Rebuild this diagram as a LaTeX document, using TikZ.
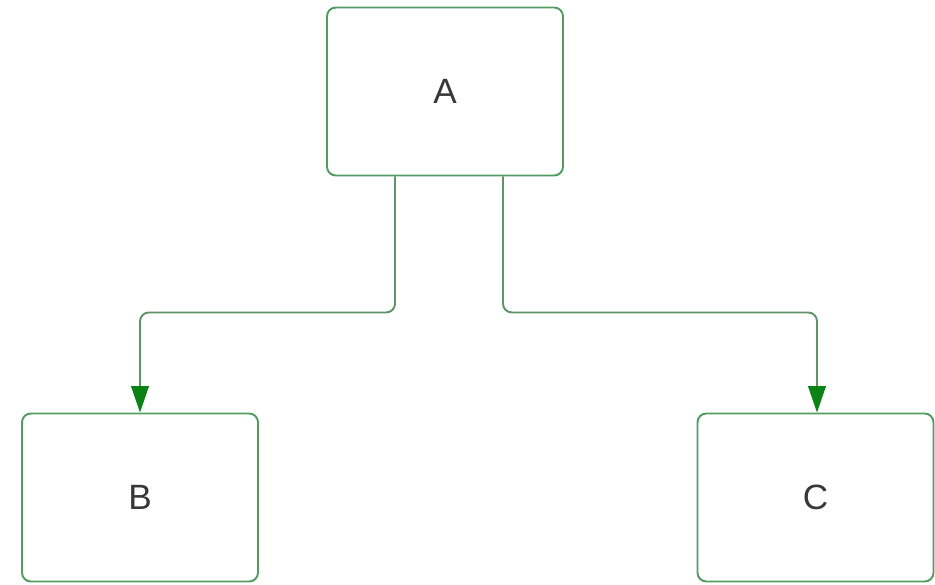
\documentclass[tikz,border=0pt]{standalone}
\usepackage{fontspec}
\setmainfont{Liberation Sans}
\usetikzlibrary{arrows.meta}
\definecolor{boxgreen}{RGB}{82,156,96}
\definecolor{linegreen}{RGB}{96,146,104}
\definecolor{tipgreen}{RGB}{10,130,20}
\definecolor{textgrey}{RGB}{55,55,55}
\begin{document}
\begin{tikzpicture}[
        x=1cm, y=1cm,
        base/.style={draw=boxgreen, rounded corners=5pt, line width=1.1pt, align=center, minimum width=4.72cm, minimum height=3.36cm, font=\fontsize{20}{24}\selectfont, text=textgrey},
        flow/.style={draw=linegreen, line width=1.1pt, rounded corners=5pt, -{Triangle[length=15pt, width=10pt, color=tipgreen]}}
    ]
        \useasboundingbox (0,0) rectangle (18.7,-11.68);

        \node[base] (A) at (8.9,-1.83) {A};
        \node[base] (B) at (2.8,-9.95) {B};
        \node[base] (C) at (16.31,-9.95) {C};

        \draw[flow] ([xshift=-1.0cm]A.south) -- ++(0,-2.72) -| (B.north);
        \draw[flow] ([xshift=1.16cm]A.south) -- ++(0,-2.72) -| ([xshift=0.03cm]C.north);
    \end{tikzpicture}
\end{document}
